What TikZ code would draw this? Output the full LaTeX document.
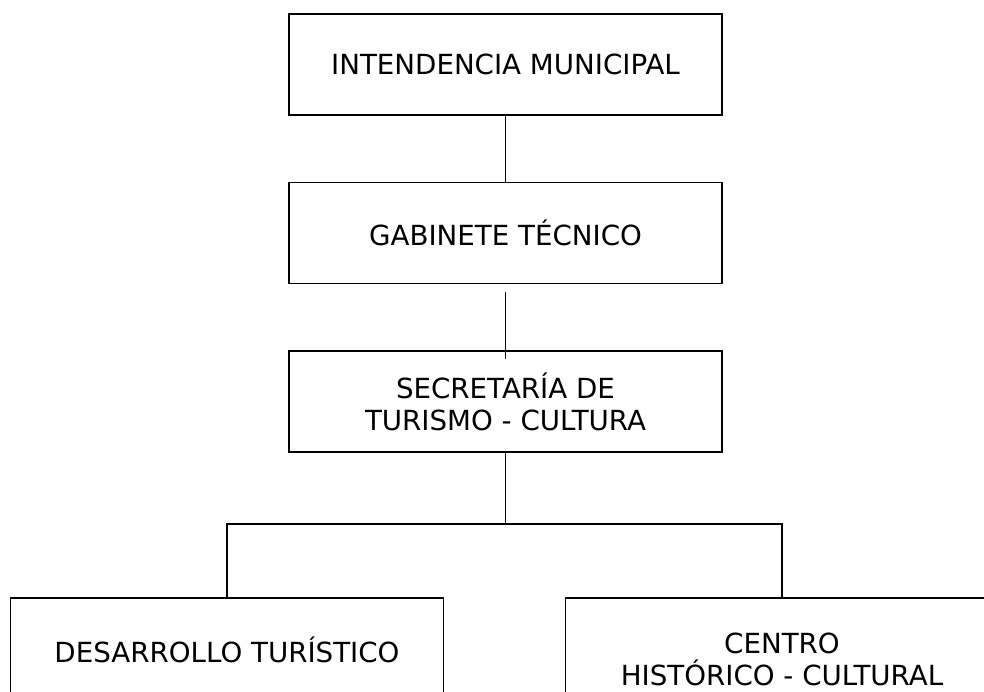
\documentclass[tikz,border=0pt]{standalone}
\usepackage{fontspec}
\setmainfont{DejaVu Sans}
\usetikzlibrary{positioning}

\begin{document}
\begin{tikzpicture}[x=1pt,y=-1pt,node distance=168.5pt,on grid,line width=1.9pt,
    box/.style={draw,minimum width=433pt,minimum height=101pt,inner sep=0pt,
      align=center,font=\fontsize{27.7}{32}\selectfont}]
    \useasboundingbox (0,0) rectangle (984,692);
    \clip (0,0) rectangle (984,692);
    \node[box] (intend) at (505.5,64.5) {INTENDENCIA MUNICIPAL};
    \node[box] [below=of intend] (gabin) {GABINETE TÉCNICO};
    \node[box] [below=of gabin] (secret) {SECRETARÍA DE\\TURISMO - CULTURA};
    \node[box,minimum height=104pt] (desarr) at (227,650) {DESARROLLO TURÍSTICO};
    \node[box,minimum height=122pt] (centro) at (782,659) {CENTRO\\HISTÓRICO - CULTURAL};
    \coordinate (split) at (505.5,524);
    \draw (intend) -- (gabin);
    \draw[shorten <=8pt, shorten >=-9pt] (gabin) -- (secret);
    \draw (secret) -- (secret |- split);
    \draw (desarr.north) |- (split) -| (centro.north);
\end{tikzpicture}
\end{document}
